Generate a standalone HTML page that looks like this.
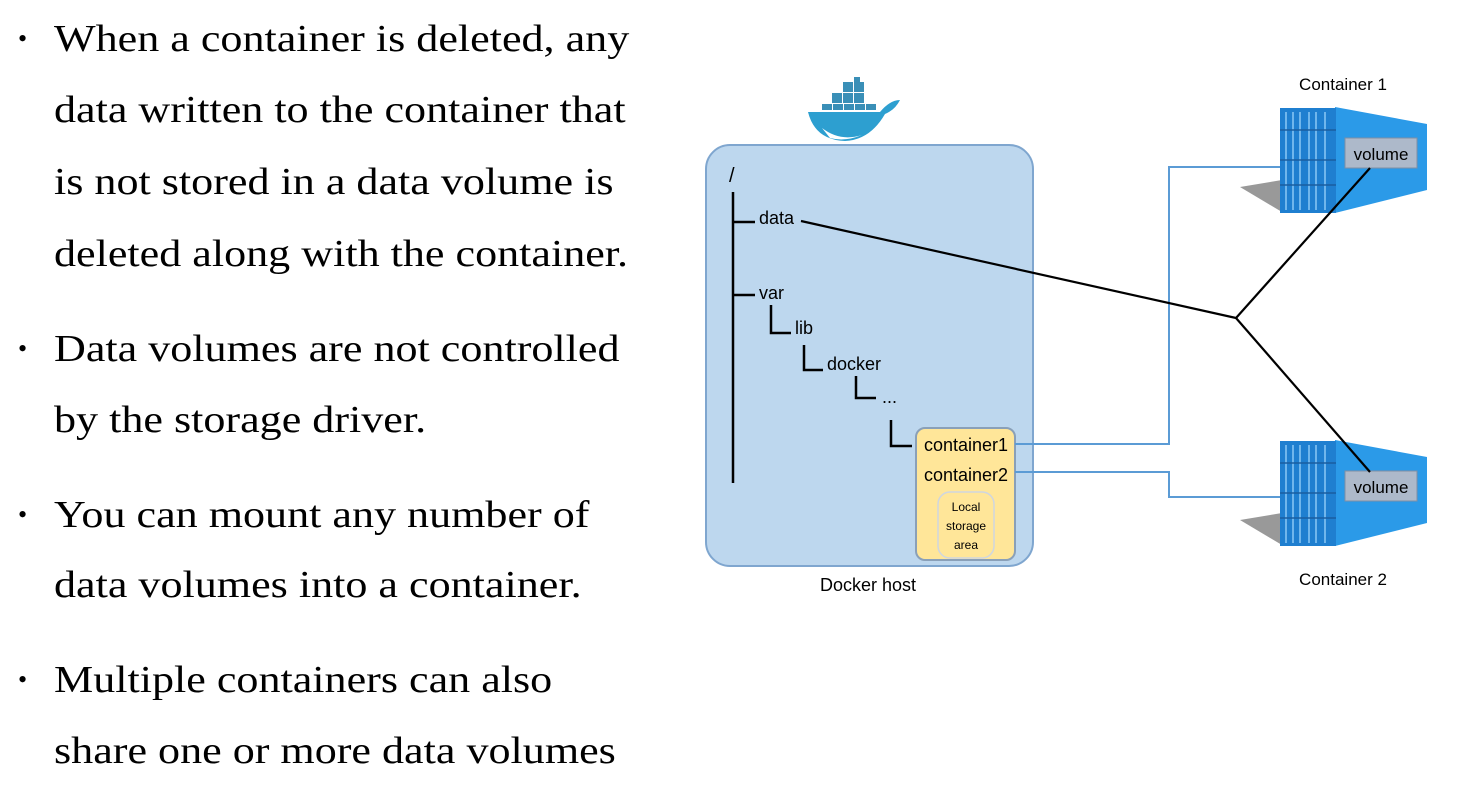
<!DOCTYPE html>
<html><head><style>
body{margin:0;width:1479px;height:811px;background:#fff;overflow:hidden;position:relative;font-family:"Liberation Serif",serif;}
.t{position:absolute;left:54px;font-size:38px;color:#000;white-space:nowrap;transform:scaleX(1.16);transform-origin:0 0;}
.b{position:absolute;left:18px;font-size:26px;}
svg{position:absolute;left:0;top:0;}
</style></head><body>
<div class="b" style="top:24px">•</div>
<div class="t" style="top:17px">When a container is deleted, any</div>
<div class="t" style="top:88px">data written to the container that</div>
<div class="t" style="top:160px">is not stored in a data volume is</div>
<div class="t" style="top:232px">deleted along with the container.</div>
<div class="b" style="top:334px">•</div>
<div class="t" style="top:327px">Data volumes are not controlled</div>
<div class="t" style="top:398px">by the storage driver.</div>
<div class="b" style="top:500px">•</div>
<div class="t" style="top:493px">You can mount any number of</div>
<div class="t" style="top:563px">data volumes into a container.</div>
<div class="b" style="top:665px">•</div>
<div class="t" style="top:658px">Multiple containers can also</div>
<div class="t" style="top:729px">share one or more data volumes</div>
<svg width="1479" height="811" font-family="Liberation Sans, sans-serif">
<g>
<rect x="832" y="93" width="10" height="10" fill="#3a8fb7"/><rect x="843" y="93" width="10" height="10" fill="#3a8fb7"/><rect x="854" y="93" width="10" height="10" fill="#3a8fb7"/>
<rect x="843" y="82" width="10" height="10" fill="#3a8fb7"/><rect x="854" y="82" width="10" height="10" fill="#3a8fb7"/>
<rect x="854" y="77" width="6" height="5" fill="#3a8fb7"/>
<rect x="822" y="104" width="10" height="6" fill="#3a8fb7"/><rect x="833" y="104" width="10" height="6" fill="#3a8fb7"/><rect x="844" y="104" width="10" height="6" fill="#3a8fb7"/><rect x="855" y="104" width="10" height="6" fill="#3a8fb7"/><rect x="866" y="104" width="10" height="6" fill="#3a8fb7"/>
<path d="M808,112 L880,112 Q890,100 900,100 Q895,110 885,114 Q870,140 845,141 Q815,140 808,112Z" fill="#2d9fd0"/>
<path d="M822,128 Q840,142 862,135 Q845,142 830,138Z" fill="#fff"/>
</g>
<rect x="706" y="145" width="327" height="421" rx="24" fill="#bdd7ee" stroke="#7fa6cf" stroke-width="2"/>
<text x="868" y="591" font-size="18" text-anchor="middle">Docker host</text>
<text x="729" y="182" font-size="20">/</text>
<g stroke="#000" stroke-width="2.5" fill="none">
<path d="M733,192V483"/><path d="M733,222H755"/><path d="M733,295H755"/>
<path d="M771,305V333H791"/><path d="M804,345V370H823"/><path d="M856,376V398H876"/><path d="M891,420V446H912"/>
</g>
<g font-size="18" fill="#000">
<text x="759" y="224">data</text><text x="759" y="299">var</text><text x="795" y="334">lib</text><text x="827" y="370">docker</text><text x="882" y="403">...</text>
</g>
<rect x="916" y="428" width="99" height="132" rx="9" fill="#ffe699" stroke="#8aa0b8" stroke-width="2"/>
<text x="966" y="451" font-size="18" text-anchor="middle">container1</text>
<text x="966" y="481" font-size="18" text-anchor="middle">container2</text>
<rect x="938" y="492" width="56" height="66" rx="12" fill="none" stroke="#cfd6e0" stroke-width="1.5"/>
<g font-size="12" text-anchor="middle"><text x="966" y="511">Local</text><text x="966" y="530">storage</text><text x="966" y="549">area</text></g>
<g stroke="#5b9bd5" stroke-width="2" fill="none">
<path d="M1015,444H1169V167H1282"/><path d="M1015,472H1169V497H1282"/>
</g>
<g id="c1">
<polygon points="1240,187 1282,180 1282,212" fill="#999"/>
<polygon points="1335,107 1427,124 1427,190 1335,213" fill="#2b9ae8"/>
<rect x="1280" y="108" width="56" height="105" fill="#1f7fd0"/>
<g stroke="#8cc8f5" stroke-width="1.5"><path d="M1286,112V210M1293,112V210M1300,112V210M1309,112V210M1316,112V210M1325,112V210"/></g>
<g stroke="#1a5fa0" stroke-width="1.5"><path d="M1280,130H1336M1280,160H1336M1280,185H1336"/></g>
<rect x="1345" y="138" width="72" height="30" fill="#adb9ca" stroke="#7f8fa4"/>
<text x="1381" y="160" font-size="17" text-anchor="middle">volume</text>
</g>
<use href="#c1" transform="translate(0,333)"/>
<text x="1343" y="90" font-size="17" text-anchor="middle">Container 1</text>
<text x="1343" y="585" font-size="17" text-anchor="middle">Container 2</text>
<g stroke="#000" stroke-width="2.2" fill="none">
<path d="M801,221L1236,318L1370,168"/><path d="M1236,318L1370,472"/>
</g>
</svg>
</body></html>
